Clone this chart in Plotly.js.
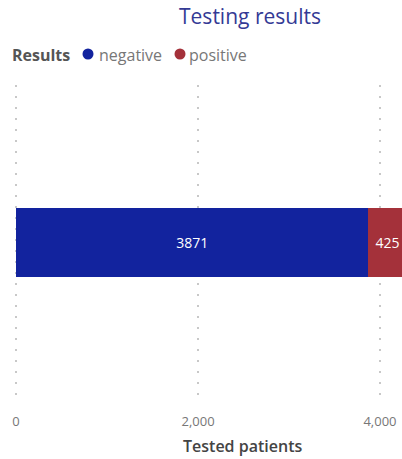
<!DOCTYPE html>
<html><head><meta charset="utf-8">
<script src="https://cdn.plot.ly/plotly-3.0.1.min.js"></script>
<style>html,body{margin:0;padding:0;background:#fff}#chart{width:402px;height:459px}</style>
</head><body><div id="chart"></div>
<script>
const category = ["Testing"];
const seriesNames = ["negative", "positive"];
const negativeValues = [3871];
const positiveValues = [425];
const tickValues = [0, 2000, 4000];
const tickLabels = ["0", "2,000", "4,000"];
const legendTitle = "Results";

const font = "Segoe UI, Open Sans, Noto Sans, sans-serif";
const colors = ["#12239E", "#A4313A"];
const vals = [negativeValues, positiveValues];

const traces = seriesNames.map((n, i) => ({
  type: "bar", orientation: "h", name: n, showlegend: false,
  x: vals[i], y: category,
  marker: {color: colors[i]},
  text: vals[i].map(String), textposition: "inside", insidetextanchor: "middle",
  textfont: {color: "#ffffff", size: 14, family: font},
  hoverinfo: "x+name"
}));

const L = 15, PW = 387, T = 85, PH = 315;
const px = v => (v - L) / PW;           // pixel x -> paper
const py = v => 1 + (T - v) / PH;       // pixel y -> paper
const legY = 55;
const markerX = [88, 180], labelX = [97, 187];

const annotations = [
  {text: "<b>" + legendTitle + "</b>", x: px(10), y: py(legY), xanchor: "left",
   font: {family: font, size: 16, color: "#555555"}},
  ...seriesNames.map((n, i) => ({text: n, x: px(labelX[i]), y: py(legY), xanchor: "left",
   font: {family: font, size: 16, color: "#777777"}})),
  {text: "Tested patients", x: px(242), y: py(446), xanchor: "center",
   font: {family: font, size: 16, weight: 600, color: "#444444"}}
].map(a => Object.assign({xref: "paper", yref: "paper", yanchor: "middle", showarrow: false}, a));

const shapes = seriesNames.map((n, i) => ({
  type: "circle", xref: "paper", yref: "paper", xsizemode: "pixel", ysizemode: "pixel",
  xanchor: px(markerX[i]), yanchor: py(legY - 1), x0: -5.5, x1: 5.5, y0: -5.5, y1: 5.5,
  fillcolor: colors[i], line: {width: 0}
}));

const layout = {
  width: 402, height: 459,
  margin: {l: L, r: 0, t: T, b: 459 - T - PH},
  barmode: "stack", bargap: 0.784,
  showlegend: false,
  title: {text: "Testing results", x: 250/402, xanchor: "center", y: 1 - 17/459, yanchor: "middle",
    font: {family: font, size: 21, color: "#343A95"}},
  xaxis: {range: [-12, 4242], tickvals: tickValues, ticktext: tickLabels,
    showgrid: true, gridcolor: "#c8c8c8", griddash: "2px,9px", gridwidth: 1.5,
    zeroline: false, showline: false, ticks: "outside", ticklen: 9, tickcolor: "rgba(0,0,0,0)", fixedrange: true,
    tickfont: {family: font, size: 13, color: "#777777"}},
  yaxis: {showticklabels: false, showgrid: false, zeroline: false, range: [-0.5, 0.5], fixedrange: true},
  annotations, shapes,
  paper_bgcolor: "#ffffff", plot_bgcolor: "#ffffff"
};
Plotly.newPlot("chart", traces, layout, {displayModeBar: false, staticPlot: true});
</script></body></html>
